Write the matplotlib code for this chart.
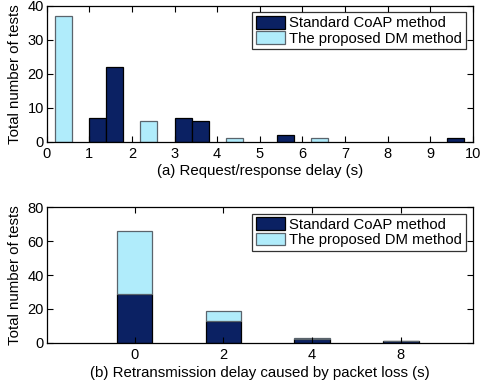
import matplotlib
matplotlib.use("Agg")
import matplotlib.pyplot as plt
from matplotlib.patches import Patch

plt.rcParams['font.family'] = ['Liberation Sans', 'DejaVu Sans']

# Panel (a): request/response delay histogram-like bars
dm_centers = [0.4, 2.4, 4.4, 6.4]
dm_counts = [37, 6, 1, 1]
coap_centers = [1.2, 1.6, 3.2, 3.6, 5.6, 9.6]
coap_counts = [7, 22, 7, 6, 2, 1]

# Panel (b): retransmission delay, stacked
retrans_labels = ['0', '2', '4', '8']
retrans_coap = [29, 13, 2, 1]
retrans_dm = [37, 6, 1, 0]

dark = '#0b2163'
light = '#b0ecfb'
light_edge = '#5a646c'
lw = 0.9
fs_tick = 10.5
fs_lab = 10.8
fs_leg = 10.7

fig = plt.figure(figsize=(4.81, 3.86), dpi=100)
ax1 = fig.add_axes([0.097, 0.633, 0.886, 0.352])
ax2 = fig.add_axes([0.097, 0.112, 0.886, 0.351])

ax1.bar(coap_centers, coap_counts, width=0.4, color=dark, edgecolor='black', linewidth=lw)
ax1.bar(dm_centers, dm_counts, width=0.4, color=light, edgecolor=light_edge, linewidth=lw)
ax1.set_xlim(0, 10)
ax1.set_ylim(0, 40)
ax1.set_xticks(range(0, 11))
ax1.set_yticks([0, 10, 20, 30, 40])
ax1.set_xlabel('(a) Request/response delay (s)', fontsize=fs_lab, labelpad=2)
ax1.set_ylabel('Total number of tests', fontsize=fs_lab, labelpad=4)

pos = [1, 2, 3, 4]
ax2.bar(pos, retrans_coap, width=0.4, color=dark, edgecolor='black', linewidth=lw)
ax2.bar(pos, retrans_dm, width=0.4, bottom=retrans_coap, color=light, edgecolor=light_edge, linewidth=lw)
ax2.set_xlim(0.01, 4.81)
ax2.set_ylim(0, 80)
ax2.set_xticks(pos)
ax2.set_xticklabels(retrans_labels)
ax2.set_yticks([0, 20, 40, 60, 80])
ax2.set_xlabel('(b) Retransmission delay caused by packet loss (s)', fontsize=fs_lab, labelpad=3)
ax2.set_ylabel('Total number of tests', fontsize=fs_lab, labelpad=4)

handles = [Patch(facecolor=dark, edgecolor='black', linewidth=lw),
           Patch(facecolor=light, edgecolor=light_edge, linewidth=lw)]
names = ['Standard CoAP method', 'The proposed DM method']

for ax in (ax1, ax2):
    ax.tick_params(direction='in', top=True, right=True, labelsize=fs_tick, length=4, width=0.8, pad=2)
    ax.tick_params(axis='x', pad=4)
    for s in ax.spines.values():
        s.set_linewidth(0.9)
    leg = ax.legend(handles, names, loc='upper right', bbox_to_anchor=(0.99, 0.975),
                    fontsize=fs_leg, frameon=True, fancybox=False, edgecolor='black',
                    handlelength=2.0, handleheight=0.95, handletextpad=0.25,
                    borderpad=0.25, labelspacing=0.05, borderaxespad=0.2)
    leg.get_frame().set_linewidth(0.9)

fig.savefig('out.png', dpi=100)
